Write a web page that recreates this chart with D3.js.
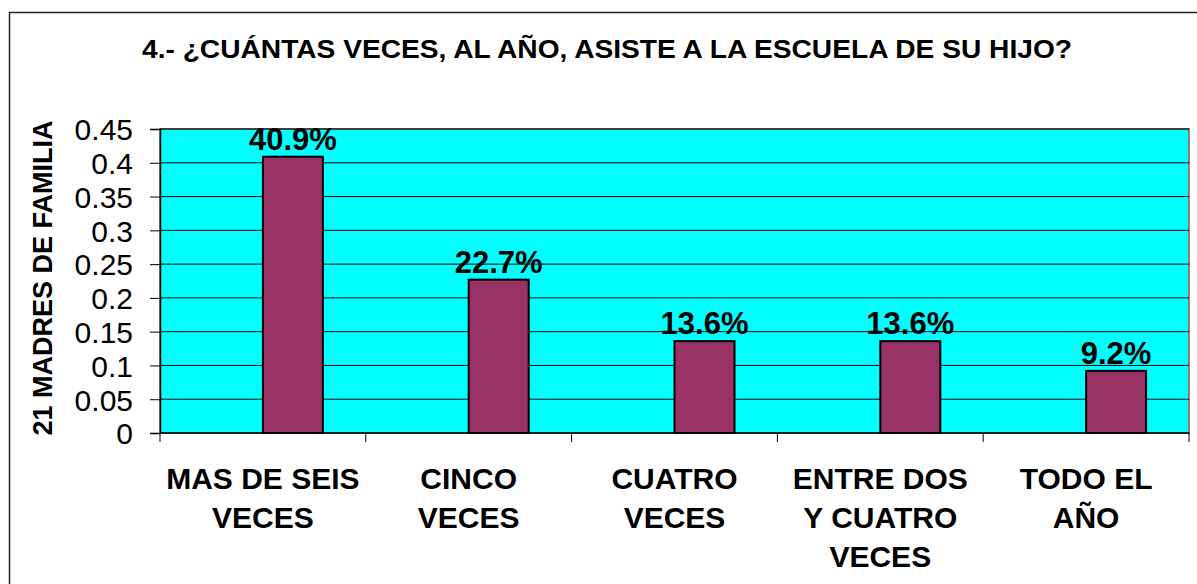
<!DOCTYPE html>
<html>
<head>
<meta charset="utf-8">
<script src="https://cdn.jsdelivr.net/npm/d3@7"></script>
<style>
  body { margin: 0; background: #fff; }
  text { font-family: Arial, "Liberation Sans", sans-serif; }
</style>
</head>
<body>
<div id="chart"></div>
<script>
var categories = [
  ["MAS DE SEIS", "VECES"],
  ["CINCO", "VECES"],
  ["CUATRO", "VECES"],
  ["ENTRE DOS", "Y CUATRO", "VECES"],
  ["TODO EL", "AÑO"]
];
var values = [0.409, 0.227, 0.136, 0.136, 0.092];
var value_labels = ["40.9%", "22.7%", "13.6%", "13.6%", "9.2%"];
var y_ticks = [0, 0.05, 0.1, 0.15, 0.2, 0.25, 0.3, 0.35, 0.4, 0.45];
var y_tick_labels = ["0", "0.05", "0.1", "0.15", "0.2", "0.25", "0.3", "0.35", "0.4", "0.45"];

var width = 1197, height = 584;
var plot = {left: 160, top: 129, right: 1189, bottom: 433};

var svg = d3.select("#chart")
    .append("svg")
    .attr("width", width)
    .attr("height", height);

// outer frame
svg.append("rect")
    .attr("x", 9.5).attr("y", 12.5)
    .attr("width", 1200).attr("height", 600)
    .attr("fill", "#fff")
    .attr("stroke", "#222")
    .attr("stroke-width", 1.5);

svg.append("text")
    .attr("x", 607).attr("y", 58)
    .style("text-anchor", "middle")
    .style("font-size", "25px")
    .style("font-weight", "bold")
    .attr("textLength", 930)
    .attr("lengthAdjust", "spacingAndGlyphs")
    .text("4.-  ¿CUÁNTAS VECES, AL AÑO, ASISTE A LA ESCUELA DE SU HIJO?");

var x = d3.scaleBand()
    .domain(d3.range(categories.length))
    .range([plot.left, plot.right]);

// two series slots per category, the first one is empty (excel layout)
var x_inner = d3.scaleBand()
    .domain(["vacio", "valor"])
    .range([0, x.bandwidth()])
    .paddingOuter(0.715);

var y = d3.scaleLinear()
    .domain([0, 0.45])
    .range([plot.bottom, plot.top]);

svg.append("rect")
    .attr("x", plot.left).attr("y", plot.top)
    .attr("width", plot.right - plot.left)
    .attr("height", plot.bottom - plot.top)
    .attr("fill", "#00FFFF")
    .attr("stroke", "#808080")
    .attr("stroke-width", 2);

svg.append("g").selectAll("line")
    .data(y_ticks.slice(1))
    .enter()
    .append("line")
    .attr("x1", plot.left).attr("x2", plot.right)
    .attr("y1", function(d) { return y(d); })
    .attr("y2", function(d) { return y(d); })
    .attr("stroke", "#000")
    .attr("stroke-width", 1);

svg.append("g").selectAll("rect")
    .data(values)
    .enter()
    .append("rect")
    .attr("x", function(d, i) { return x(i) + x_inner("valor"); })
    .attr("y", function(d) { return y(d); })
    .attr("width", x_inner.bandwidth())
    .attr("height", function(d) { return y(0) - y(d); })
    .attr("fill", "#993366")
    .attr("stroke", "#000")
    .attr("stroke-width", 2);

svg.append("g").selectAll("text")
    .data(values)
    .enter()
    .append("text")
    .attr("x", function(d, i) { return x(i) + x_inner("valor") + x_inner.bandwidth() / 2; })
    .attr("y", function(d) { return y(d) - 7; })
    .style("text-anchor", "middle")
    .style("font-size", "31px")
    .style("font-weight", "bold")
    .text(function(d, i) { return value_labels[i]; });

// y axis
var y_axis = svg.append("g")
    .attr("transform", `translate(${plot.left}, 0)`)
    .call(d3.axisLeft(y)
        .tickValues(y_ticks)
        .tickFormat(function(d, i) { return y_tick_labels[i]; })
        .tickSize(10)
        .tickPadding(17));
y_axis.attr("font-size", null).attr("font-family", null);
y_axis.select(".domain").attr("stroke", "#000").attr("stroke-width", 1.5);
y_axis.selectAll("text")
    .style("font-size", "30px")
    .attr("dy", "0.36em");

// x axis
var x_axis = svg.append("g")
    .attr("transform", `translate(0, ${plot.bottom})`);
x_axis.append("line")
    .attr("x1", plot.left).attr("x2", plot.right)
    .attr("stroke", "#000").attr("stroke-width", 1.5);
x_axis.selectAll(".tick")
    .data(d3.range(categories.length + 1))
    .enter()
    .append("line")
    .attr("class", "tick")
    .attr("x1", function(d) { return plot.left + d * x.step(); })
    .attr("x2", function(d) { return plot.left + d * x.step(); })
    .attr("y1", 0).attr("y2", 9)
    .attr("stroke", "#000");

var x_labels = svg.append("g").selectAll("text")
    .data(categories)
    .enter()
    .append("text")
    .attr("x", function(d, i) { return x(i) + x.bandwidth() / 2; })
    .attr("y", 489)
    .style("text-anchor", "middle")
    .style("font-size", "30px")
    .style("font-weight", "bold");
x_labels.selectAll("tspan")
    .data(function(d) { return d; })
    .enter()
    .append("tspan")
    .attr("x", function() { return d3.select(this.parentNode).attr("x"); })
    .attr("dy", function(d, i) { return i === 0 ? 0 : 39; })
    .text(function(d) { return d; });

svg.append("text")
    .attr("transform", `translate(52, ${(plot.top + plot.bottom) / 2 - 3}) rotate(-90)`)
    .style("text-anchor", "middle")
    .style("font-size", "27px")
    .style("font-weight", "bold")
    .text("21 MADRES DE FAMILIA");
</script>
</body>
</html>
